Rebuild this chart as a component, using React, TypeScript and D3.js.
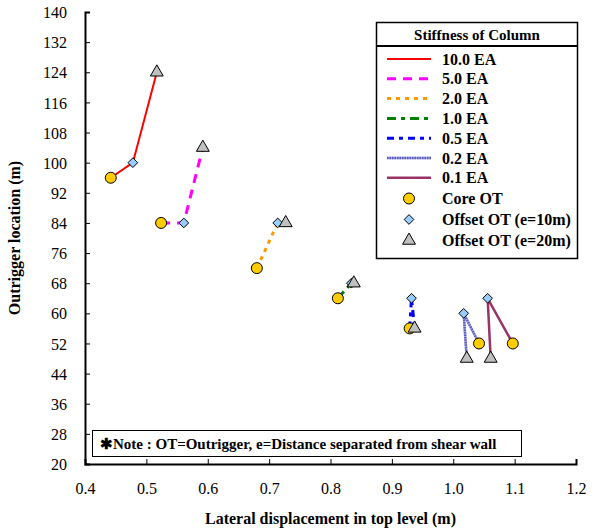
import React, { useRef, useEffect } from "react";
import * as d3 from "d3";

// stiffness cases, one entry per line
const stiffness = ["10.0 EA", "5.0 EA", "2.0 EA", "1.0 EA", "0.5 EA", "0.2 EA", "0.1 EA"];

// core outrigger (x = lateral displacement m, y = outrigger location m)
const coreX = [0.442, 0.524, 0.68, 0.812, 0.929, 1.042, 1.097];
const coreY = [96, 84, 72, 64, 56, 52, 52];

// offset outrigger e=10m
const off10X = [0.478, 0.561, 0.714, 0.834, 0.932, 1.017, 1.056];
const off10Y = [100, 84, 84, 68, 64, 60, 64];

// offset outrigger e=20m
const off20X = [0.517, 0.592, 0.727, 0.838, 0.937, 1.022, 1.061];
const off20Y = [124, 104, 84, 68, 56, 48, 48];

const xTicks = [0.4, 0.5, 0.6, 0.7, 0.8, 0.9, 1.0, 1.1, 1.2];
const yTicks = [20, 28, 36, 44, 52, 60, 68, 76, 84, 92, 100, 108, 116, 124, 132, 140];

const markerNames = ["Core OT", "Offset OT (e=10m)", "Offset OT (e=20m)"];

const lineStyles = [
  { color: "#FF0000", width: 2, dash: null },
  { color: "#FF00FF", width: 3, dash: "9,7" },
  { color: "#FF9900", width: 3, dash: "4,5" },
  { color: "#008000", width: 3, dash: "9,5,4,5" },
  { color: "#0000FF", width: 3, dash: "7,5,4,5" },
  { color: "#5B5BC8", width: 2.5, dash: "1.5,1" },
  { color: "#993366", width: 2.5, dash: null },
];

const FONT = "Liberation Serif";

const App = () => {
  const svgRef = useRef<SVGSVGElement>(null);

  useEffect(() => {
    const svg = d3.select(svgRef.current);
    svg.selectAll("*").remove();

    const width = 594;
    const height = 532;
    const margin = { top: 12, right: 18, bottom: 68, left: 85 };

    const x = d3.scaleLinear().domain([0.4, 1.2]).range([margin.left, width - margin.right]);
    const y = d3.scaleLinear().domain([20, 140]).range([height - margin.bottom, margin.top]);

    svg.append("rect").attr("width", width).attr("height", height).attr("fill", "white");

    // axes (inward ticks)
    const yAxis = svg
      .append("g")
      .attr("transform", `translate(${margin.left},0)`)
      .call(d3.axisLeft(y).tickValues(yTicks).tickSize(-5).tickPadding(18).tickFormat(d3.format("d")));
    const xAxis = svg
      .append("g")
      .attr("transform", `translate(0,${height - margin.bottom})`)
      .call(d3.axisBottom(x).tickValues(xTicks).tickSize(-5).tickPadding(19).tickFormat(d3.format(".1f")));

    [xAxis, yAxis].forEach((g) => {
      g.attr("font-family", null).attr("font-size", null);
      g.select(".domain").attr("stroke", "#000").attr("stroke-width", 2);
      g.selectAll(".tick line").attr("stroke", "#000").attr("stroke-width", 1);
      g.selectAll(".tick text").style("font-family", FONT).style("font-size", "16px").attr("fill", "#000");
    });
    yAxis.selectAll(".tick text").attr("dy", "0.35em");

    // axis titles
    svg
      .append("text")
      .attr("x", (margin.left + width - margin.right) / 2)
      .attr("y", 524)
      .attr("text-anchor", "middle")
      .style("font-family", FONT)
      .style("font-weight", "bold")
      .style("font-size", "16px")
      .text("Lateral displacement in top level (m)");

    svg
      .append("text")
      .attr("transform", `translate(20,${(margin.top + height - margin.bottom) / 2}) rotate(-90)`)
      .attr("text-anchor", "middle")
      .style("font-family", FONT)
      .style("font-weight", "bold")
      .style("font-size", "16px")
      .text("Outrigger location (m)");

    // lines: core -> offset 10 -> offset 20
    const line = d3
      .line<[number, number]>()
      .x((d) => x(d[0]))
      .y((d) => y(d[1]));

    const linesG = svg.append("g");
    stiffness.forEach((s, i) => {
      const pts: [number, number][] = [
        [coreX[i], coreY[i]],
        [off10X[i], off10Y[i]],
        [off20X[i], off20Y[i]],
      ];
      const st = lineStyles[i];
      if (i === 5) {
        linesG
          .append("path")
          .attr("d", line(pts))
          .attr("fill", "none")
          .attr("stroke", "#A8A8E0")
          .attr("stroke-width", 2.5);
      }
      linesG
        .append("path")
        .attr("d", line(pts))
        .attr("fill", "none")
        .attr("stroke", st.color)
        .attr("stroke-width", st.width)
        .attr("stroke-dasharray", st.dash);
    });

    // markers
    const drawCircle = (g, cx, cy) =>
      g.append("circle").attr("cx", cx).attr("cy", cy).attr("r", 5.5)
        .attr("fill", "#FFCC00").attr("stroke", "#000").attr("stroke-width", 1);
    const drawDiamond = (g, cx, cy) =>
      g.append("path")
        .attr("d", d3.symbol(d3.symbolDiamond2, 60)())
        .attr("transform", `translate(${cx},${cy})`)
        .attr("fill", "#99CCFF").attr("stroke", "#000").attr("stroke-width", 1);
    const drawTriangle = (g, cx, cy) =>
      g.append("path")
        .attr("d", d3.symbol(d3.symbolTriangle, 72)())
        .attr("transform", `translate(${cx},${cy})`)
        .attr("fill", "#C0C0C0").attr("stroke", "#000").attr("stroke-width", 1);

    const markG = svg.append("g");
    coreX.forEach((v, i) => drawCircle(markG, x(v), y(coreY[i])));
    off10X.forEach((v, i) => drawDiamond(markG, x(v), y(off10Y[i])));
    off20X.forEach((v, i) => drawTriangle(markG, x(v), y(off20Y[i])));

    // legend
    const lg = svg.append("g");
    lg.append("rect").attr("x", 376.5).attr("y", 22.5).attr("width", 201).attr("height", 236)
      .attr("fill", "white").attr("stroke", "#000").attr("stroke-width", 1.5);
    lg.append("line").attr("x1", 376.5).attr("x2", 577.5).attr("y1", 46).attr("y2", 46)
      .attr("stroke", "#000").attr("stroke-width", 2);
    lg.append("text").attr("x", 477).attr("y", 40).attr("text-anchor", "middle")
      .style("font-family", FONT).style("font-weight", "bold").style("font-size", "15px")
      .text("Stiffness of Column");

    stiffness.forEach((s, i) => {
      const yy = 59 + i * 19.8;
      const st = lineStyles[i];
      if (i === 5) {
        lg.append("line").attr("x1", 387).attr("x2", 431).attr("y1", yy).attr("y2", yy)
          .attr("stroke", "#A8A8E0").attr("stroke-width", 2.5);
      }
      lg.append("line").attr("x1", 387).attr("x2", 431).attr("y1", yy).attr("y2", yy)
        .attr("stroke", st.color).attr("stroke-width", st.width).attr("stroke-dasharray", st.dash);
      lg.append("text").attr("x", 442).attr("y", yy).attr("dy", "0.35em")
        .style("font-family", FONT).style("font-weight", "bold").style("font-size", "16px").text(s);
    });

    const markerRows = [198.5, 219.5, 240.5];
    drawCircle(lg, 409, markerRows[0]);
    drawDiamond(lg, 409, markerRows[1]);
    drawTriangle(lg, 409, markerRows[2]);
    markerNames.forEach((m, i) => {
      lg.append("text").attr("x", 442).attr("y", markerRows[i]).attr("dy", "0.35em")
        .style("font-family", FONT).style("font-weight", "bold").style("font-size", "16px").text(m);
    });

    // note box
    const ng = svg.append("g");
    ng.append("rect").attr("x", 92.5).attr("y", 430.5).attr("width", 429).attr("height", 26)
      .attr("fill", "white").attr("stroke", "#000").attr("stroke-width", 1);
    ng.append("text").attr("x", 100).attr("y", 444).attr("dy", "0.35em")
      .style("font-family", FONT).style("font-weight", "bold").style("font-size", "15px")
      .text("\u2731Note : OT=Outrigger, e=Distance separated from shear wall");
  }, []);

  return (
    <svg
      ref={svgRef}
      width={594}
      height={532}
      style={{ position: "absolute", left: 0, top: 0 }}
    ></svg>
  );
};

export default App;
